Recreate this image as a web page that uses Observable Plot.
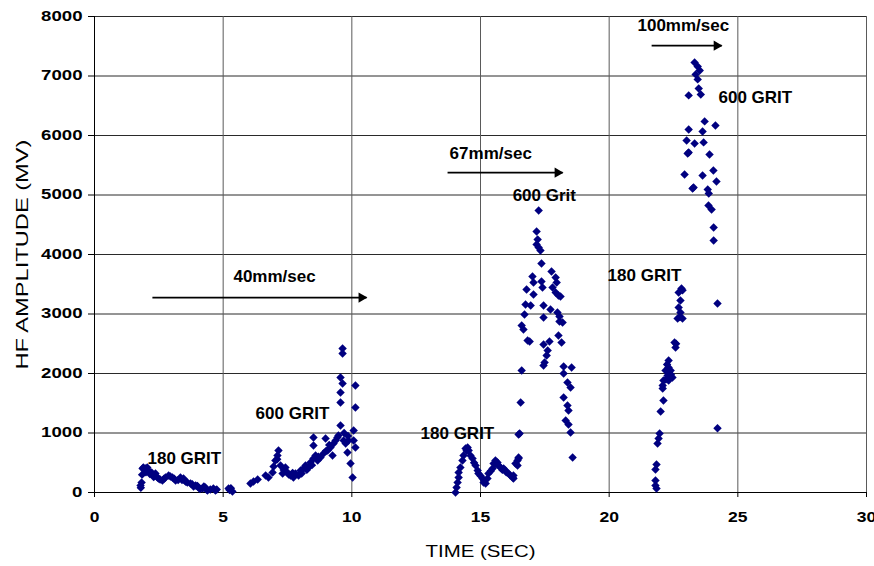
<!DOCTYPE html>
<html>
<head>
<meta charset="utf-8">
<script src="https://cdn.jsdelivr.net/npm/d3@7"></script>
<script src="https://cdn.jsdelivr.net/npm/@observablehq/plot@0.6"></script>
<style>
  html, body { margin: 0; padding: 0; background: #fff; }
  #chart { width: 874px; height: 566px; }
</style>
</head>
<body>
<div id="chart"></div>
<script>
// ---- Data (time in seconds, HF amplitude in mV) ----
const xTicks = [0, 5, 10, 15, 20, 25, 30];
const yTicks = [0, 1000, 2000, 3000, 4000, 5000, 6000, 7000, 8000];

const grit180_40 = [
  [1.79,118],[1.80,80],[1.83,168],[1.85,300],[1.87,403],[1.90,420],[1.95,380],[1.98,403],[2.00,340],[2.05,420],
  [2.10,370],[2.15,310],[2.22,336],[2.29,286],[2.30,260],[2.37,319],[2.45,250],[2.49,235],[2.55,220],[2.64,202],
  [2.70,230],[2.76,252],[2.88,286],[2.95,270],[3.03,252],[3.10,230],[3.15,202],[3.25,210],[3.34,252],[3.40,210],
  [3.46,235],[3.50,200],[3.55,180],[3.61,168],[3.73,151],[3.80,140],[3.85,100],[3.93,118],[4.00,110],[4.04,84],
  [4.10,60],[4.20,67],[4.25,100],[4.31,84],[4.35,50],[4.39,34],[4.50,50],[4.62,67],[4.70,34],[4.75,50],
  [5.21,67],[5.25,40],[5.30,70],[5.36,17]
];
const grit600_40 = [
  [6.06,151],[6.18,185],[6.34,219],[6.65,286],[6.76,252],[6.92,336],[6.96,437],[7.03,538],[7.11,622],[7.15,706],
  [7.10,560],[7.23,454],[7.31,319],[7.35,380],[7.42,420],[7.50,336],[7.55,300],[7.62,286],[7.70,330],[7.73,252],
  [7.81,319],[7.93,286],[8.01,370],[8.05,320],[8.12,403],[8.20,454],[8.25,380],[8.32,420],[8.39,504],[8.45,460],
  [8.51,572],[8.59,622],[8.51,790],[8.51,925],[8.67,538],[8.70,600],[8.78,588],[8.90,656],[8.98,908],[9.00,700],
  [9.06,706],[9.12,800],[9.17,756],[9.25,622],[9.29,824],[9.37,874],[9.44,925],[9.48,958],[9.56,1126],[9.56,1513],
  [9.56,1681],[9.64,1832],[9.56,1933],[9.64,2337],[9.64,2421],[9.68,874],[9.70,1000],[9.76,824],[9.83,672],[9.85,950],
  [9.87,874],[9.95,487],[10.03,252],[10.07,1042],[10.07,874],[10.14,756],[10.14,1429],[10.14,1799]
];
const grit180_67 = [
  [14.03,0],[14.07,84],[14.11,168],[14.15,252],[14.15,336],[14.22,420],[14.30,538],[14.34,622],[14.42,740],[14.46,700],
  [14.50,756],[14.54,706],[14.61,622],[14.69,572],[14.75,500],[14.81,454],[14.89,370],[14.92,319],[15.00,280],[15.08,235],
  [15.12,168],[15.15,200],[15.20,151],[15.27,235],[15.31,319],[15.40,360],[15.47,403],[15.51,487],[15.58,538],[15.60,480],
  [15.66,504],[15.70,454],[15.78,420],[15.85,380],[15.90,403],[15.97,370],[16.00,340],[16.09,319],[16.15,290],[16.25,252],
  [16.28,235]
];
const grit600_67 = [
  [16.28,286],[16.36,487],[16.44,538],[16.48,588],[16.44,454],[16.48,572],[16.48,975],[16.52,992],[16.56,1513],[16.60,2051],
  [16.60,2807],[16.67,2740],[16.71,2992],[16.75,3160],[16.79,3412],[16.83,2555],[16.91,2538],[16.95,3143],[17.02,3631],[17.06,3530],
  [17.06,3328],[17.18,4387],[17.22,4253],[17.18,4169],[17.26,4118],[17.33,4068],[17.26,4740],[17.37,3850],[17.37,3547],[17.41,3446],
  [17.45,3143],[17.45,2942],[17.45,2488],[17.45,2135],[17.49,2185],[17.57,2303],[17.61,2387],[17.68,2538],[17.72,3076],[17.76,3715],
  [17.80,3446],[17.92,3614],[17.92,3362],[17.96,3530],[17.99,3026],[18.03,3312],[18.03,2639],[18.07,2959],[18.07,2875],[18.11,3295],
  [18.15,2522],[18.19,2858],[18.23,2118],[18.23,2000],[18.23,1597],[18.31,1210],[18.38,1849],[18.38,1462],[18.42,1378],[18.42,1143],
  [18.50,1765],[18.50,1009],[18.54,2101],[18.58,588]
];
const grit180_100 = [
  [21.80,118],[21.80,202],[21.84,67],[21.80,387],[21.84,471],[21.88,824],[21.92,908],[21.96,992],[22.00,1362],[22.11,1547],
  [22.08,1799],[22.08,1748],[22.11,1883],[22.20,1900],[22.31,1883],[22.19,2051],[22.39,2051],[22.27,1967],[22.35,2000],[22.40,1980],
  [22.46,1933],[22.25,2150],[22.31,2219],[22.31,2101],[22.54,2522],[22.58,2438],[22.60,2500],[22.66,2925],[22.75,2950],[22.85,2925],
  [22.70,3110],[22.77,3026],[22.77,3228],[22.70,3362],[22.81,3429],[22.85,3400]
];
const grit600_100 = [
  [23.32,7228],[23.44,7161],[23.52,7094],[23.36,7027],[23.44,6943],[23.48,6791],[23.56,6690],[23.09,6674],[23.71,6237],[24.13,6169],
  [23.09,6102],[23.63,6068],[23.01,5917],[23.32,5867],[23.67,5884],[23.09,5715],[23.05,5699],[23.90,5682],[24.05,5413],[22.93,5346],
  [23.63,5329],[24.17,5228],[23.28,5127],[23.24,5110],[23.83,5093],[23.87,5026],[23.86,4824],[23.98,4757],[24.06,4455],[24.06,4236],
  [24.21,3177],[24.21,1080]
];

const labelTexts = ["180 GRIT","40mm/sec","600 GRIT","180 GRIT","67mm/sec","600 Grit","180 GRIT","100mm/sec","600 GRIT"];
const labelTimes = [2.06, 5.40, 6.26, 12.67, 13.80, 16.25, 19.94, 21.10, 24.25];
const labelAmps  = [571, 3631, 1328, 992, 5699, 4993, 3648, 7850, 6640];

const arrowStart = [2.25, 13.72, 21.65];
const arrowEnd   = [10.57, 18.19, 24.37];
const arrowAmp   = [3276, 5376, 7510];

const yTitle = "HF AMPLITUDE (MV)";
const xTitle = "TIME (SEC)";

// ---- Build tables ----
const points = [grit180_40, grit600_40, grit180_67, grit600_67, grit180_100, grit600_100]
  .flatMap(arr => arr.map(([t, a]) => ({t, a})));
const labels = labelTexts.map((text, i) => ({text, t: labelTimes[i], a: labelAmps[i]}));
const arrows = arrowStart.map((t1, i) => ({t1, t2: arrowEnd[i], a: arrowAmp[i]}));

const font = "'Liberation Sans', Arial, Helvetica, sans-serif";

const chart = Plot.plot({
  width: 874,
  height: 566,
  marginLeft: 94,
  marginRight: 8,
  marginTop: 16,
  marginBottom: 74,
  style: {fontFamily: font, background: "#fff", color: "#000"},
  x: {domain: [0, 30]},
  y: {domain: [0, 8000]},
  marks: [
    Plot.gridY(yTicks, {stroke: "#2a2a2a", strokeOpacity: 1}),
    Plot.gridX(xTicks, {stroke: "#5a5a5a", strokeOpacity: 1}),
    Plot.axisY(yTicks, {tickSize: 6, tickPadding: 6, fontSize: 14, fontWeight: "bold", label: null, tickFormat: d => String(d)}),
    Plot.axisX(xTicks, {tickSize: 5, tickPadding: 15, fontSize: 14, fontWeight: "bold", label: null, tickFormat: d => String(d)}),
    Plot.ruleX([0], {stroke: "#000"}),
    Plot.ruleY([0], {stroke: "#000"}),
    Plot.dot(points, {x: "t", y: "a", symbol: "diamond2", r: 3.8, fill: "#000080", stroke: "none"}),
    Plot.text(labels, {x: "t", y: "a", text: "text", textAnchor: "start", fontWeight: "bold", fontSize: 17, fill: "#000"}),
    Plot.link(arrows, {x1: "t1", x2: "t2", y1: "a", y2: "a", stroke: "#000", strokeWidth: 1.6}),
    Plot.dot(arrows, {x: "t2", y: "a", symbol: "triangle", rotate: 90, r: 3.8, fill: "#000", stroke: "none", dx: -5}),
    Plot.text([yTitle], {frameAnchor: "left", dx: -72, rotate: -90, textAnchor: "middle", lineAnchor: "middle", fontSize: 17, fill: "#000"}),
    Plot.text([xTitle], {frameAnchor: "bottom", dy: 59, textAnchor: "middle", lineAnchor: "middle", fontSize: 17, fill: "#000"})
  ]
});

document.getElementById("chart").appendChild(chart);

// Widen text to mimic the stretched rendering of the original
function stretch(sel, factor) {
  chart.querySelectorAll(sel).forEach(el => {
    const len = el.getComputedTextLength();
    if (len > 0) {
      el.setAttribute("textLength", (len * factor).toFixed(1));
      el.setAttribute("lengthAdjust", "spacingAndGlyphs");
    }
  });
}
function setLengthByText(content, len) {
  chart.querySelectorAll("text").forEach(el => {
    if (el.textContent === content) {
      el.setAttribute("textLength", len);
      el.setAttribute("lengthAdjust", "spacingAndGlyphs");
    }
  });
}
stretch('g[aria-label="y-axis tick label"] text', 1.33);
stretch('g[aria-label="x-axis tick label"] text', 1.25);
setLengthByText(yTitle, 230);
setLengthByText(xTitle, 110);
</script>
</body>
</html>
